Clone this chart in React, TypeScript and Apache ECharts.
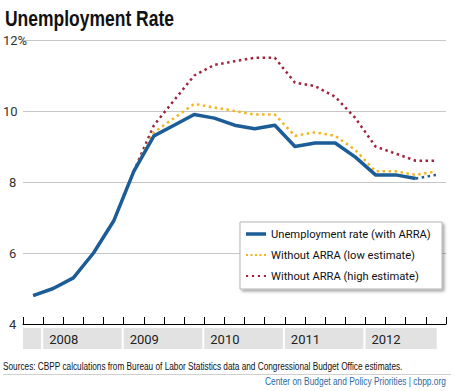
import React, { useEffect, useRef } from "react";
import * as echarts from "echarts";

const quarters = [
  "2007Q4",
  "2008Q1", "2008Q2", "2008Q3", "2008Q4",
  "2009Q1", "2009Q2", "2009Q3", "2009Q4",
  "2010Q1", "2010Q2", "2010Q3", "2010Q4",
  "2011Q1", "2011Q2", "2011Q3", "2011Q4",
  "2012Q1", "2012Q2", "2012Q3", "2012Q4",
];
const actualRate = [4.8, 5.0, 5.3, 6.0, 6.9, 8.3, 9.3, 9.6, 9.9, 9.8, 9.6, 9.5, 9.6, 9.0, 9.1, 9.1, 8.7, 8.2, 8.2, 8.1, null];
const actualProjected = [null, null, null, null, null, null, null, null, null, null, null, null, null, null, null, null, null, null, null, 8.1, 8.2];
const lowEstimate = [null, null, null, null, null, 8.3, 9.4, 9.8, 10.2, 10.1, 10.0, 9.9, 9.9, 9.3, 9.4, 9.3, 8.9, 8.3, 8.3, 8.2, 8.3];
const highEstimate = [null, null, null, null, null, 8.3, 9.6, 10.3, 11.0, 11.3, 11.4, 11.5, 11.5, 10.8, 10.7, 10.4, 9.8, 9.0, 8.8, 8.6, 8.6];

const yearLabels = ["", "2008", "2009", "2010", "2011", "2012"];
const yearStart = [-0.5, 0.5, 4.5, 8.5, 12.5, 16.5];
const yearEnd = [0.5, 4.5, 8.5, 12.5, 16.5, 20.14];

const seriesNames = [
  "Unemployment rate (with ARRA)",
  "Without ARRA (low estimate)",
  "Without ARRA (high estimate)",
];

const titleText = "Unemployment Rate";
const sourceText = "Sources: CBPP calculations from Bureau of Labor Statistics data and Congressional Budget Office estimates.";
const footerText = "Center on Budget and Policy Priorities | cbpp.org";

const iconSolid = "path://M0,0h20v3.5h-20z";
const iconYellowDots = "path://M0,0h2v2h-2zM4.5,0h2v2h-2zM9,0h2v2h-2zM13.5,0h2v2h-2zM18,0h2v2h-2z";
const iconRedDots = "path://M1,0h2v2h-2zM6.5,0h2v2h-2zM12,0h2v2h-2zM17.5,0h2v2h-2z";

function measure(text: string, font: string) {
  const c = document.createElement("canvas").getContext("2d") as CanvasRenderingContext2D;
  c.font = font;
  return c.measureText(text).width;
}

export default function App() {
  const ref = useRef<HTMLDivElement>(null);
  useEffect(() => {
    if (!ref.current) return;
    const chart = echarts.init(ref.current, undefined, { renderer: "svg" });
    const narrow = "Roboto";
    const base = '"Liberation Sans", Arial, sans-serif';

    const titleFont = `bold 22px ${base}`;
    const titleScale = 169 / measure(titleText, titleFont);
    const srcFont = `10px ${base}`;
    const srcScale = 400 / measure(sourceText, srcFont);
    const footFont = `10px ${base}`;
    const footScale = 181 / measure(footerText, footFont);

    const legW = measure(seriesNames[0], `13px ${narrow}`);
    const legendFontSize = Math.min(13, (13 * 160) / legW);
    const legTextW = measure(seriesNames[0], `${legendFontSize}px ${narrow}`);
    const legPadRight = Math.max(4, 202 - 31 - legTextW);

    const blue = "#1c5c97";
    const yellow = "#f2b51c";
    const red = "#a0253c";

    chart.setOption({
      animation: false,
      backgroundColor: "#ffffff",
      textStyle: { fontFamily: narrow },
      grid: [
        { left: 23, right: 9, top: 40, height: 284 },
        { left: 23, right: 9, top: 328, height: 21 },
      ],
      xAxis: [
        {
          type: "category",
          gridIndex: 0,
          data: quarters,
          boundaryGap: true,
          axisLine: { lineStyle: { color: "#000", width: 1 } },
          axisTick: { show: true, inside: true, length: 7, interval: 0, lineStyle: { color: "#000" } },
          axisLabel: { show: false },
          splitLine: { show: false },
        },
        { type: "value", gridIndex: 1, min: -0.5, max: 20.5, show: false },
      ],
      yAxis: [
        {
          type: "value",
          gridIndex: 0,
          min: 4,
          max: 12,
          interval: 2,
          axisLine: { show: false },
          axisTick: { show: false },
          splitLine: { lineStyle: { color: "#c6c6c6", width: 1 } },
          axisLabel: {
            align: "left",
            margin: 20,
            fontSize: 13,
            color: "#333",
            fontFamily: narrow,
            formatter: (v: number) =>
              v === 12 ? "12%" : v >= 10 ? String(v) : `{s|${v}}`,
            rich: { s: { padding: [0, 0, 0, 6], fontSize: 13, color: "#333", fontFamily: narrow } },
          },
        },
        { type: "value", gridIndex: 1, min: 0, max: 1, show: false },
      ],
      legend: {
        orient: "vertical",
        left: 240,
        top: 222,
        data: [
          { name: seriesNames[0], icon: iconSolid },
          { name: seriesNames[1], icon: iconYellowDots },
          { name: seriesNames[2], icon: iconRedDots },
        ],
        backgroundColor: "#fff",
        borderColor: "#b5b5b5",
        borderWidth: 1,
        shadowColor: "rgba(0,0,0,0.35)",
        shadowBlur: 3,
        shadowOffsetX: 2,
        shadowOffsetY: 2,
        padding: [5, legPadRight, 6, 6],
        itemGap: 7,
        itemWidth: 20,
        itemHeight: 4,
        itemStyle: { borderWidth: 0 },
        textStyle: { fontSize: legendFontSize, lineHeight: 14, color: "#111", fontFamily: narrow },
      },
      series: [
        {
          name: seriesNames[0],
          type: "line",
          data: actualRate,
          symbol: "none",
          lineStyle: { color: blue, width: 3.5, join: "round" },
          itemStyle: { color: blue },
          z: 5,
        },
        {
          name: "projected",
          type: "line",
          data: actualProjected,
          symbol: "none",
          lineStyle: { color: blue, width: 2.5, type: [2.5, 3.5] },
          itemStyle: { color: blue },
          z: 4,
        },
        {
          name: seriesNames[1],
          type: "line",
          data: lowEstimate,
          symbol: "none",
          lineStyle: { color: yellow, width: 2.5, type: [2.5, 3.5] },
          itemStyle: { color: yellow },
          z: 3,
        },
        {
          name: seriesNames[2],
          type: "line",
          data: highEstimate,
          symbol: "none",
          lineStyle: { color: red, width: 2.5, type: [2.5, 3.5] },
          itemStyle: { color: red },
          z: 2,
        },
        {
          type: "custom",
          xAxisIndex: 1,
          yAxisIndex: 1,
          silent: true,
          data: yearStart.map((s, i) => [s, yearEnd[i]]),
          renderItem: (params: any, api: any) => {
            const p0 = api.coord([api.value(0), 1]);
            const p1 = api.coord([api.value(1), 0]);
            return {
              type: "group",
              children: [
                {
                  type: "rect",
                  shape: { x: p0[0], y: p0[1], width: p1[0] - p0[0] - 2, height: p1[1] - p0[1] },
                  style: { fill: "#e2e2e2" },
                },
                {
                  type: "text",
                  style: {
                    text: yearLabels[params.dataIndex],
                    x: p0[0] + 6,
                    y: (p0[1] + p1[1]) / 2 + 1,
                    verticalAlign: "middle",
                    fontSize: 13,
                    fontFamily: narrow,
                    fill: "#222",
                  },
                },
              ],
            };
          },
        },
      ],
      graphic: [
        {
          type: "text",
          x: 5,
          y: 18,
          scaleX: titleScale,
          style: {
            text: titleText,
            font: titleFont,
            fill: "#111",
            verticalAlign: "middle",
          },
        },
        {
          type: "text",
          x: 3,
          y: 367,
          scaleX: srcScale,
          style: { text: sourceText, font: srcFont, fill: "#111", verticalAlign: "middle" },
        },
        {
          type: "line",
          shape: { x1: 3, y1: 374.5, x2: 451, y2: 374.5 },
          style: { stroke: "#cfcfcf", lineWidth: 1 },
        },
        {
          type: "text",
          x: 265,
          y: 382,
          scaleX: footScale,
          style: { text: footerText, font: footFont, fill: "#2c6aa3", verticalAlign: "middle" },
        },
      ],
    });
    return () => chart.dispose();
  }, []);
  return (
    <div
      ref={ref}
      style={{ position: "fixed", left: 0, top: 0, width: 455, height: 391 }}
    />
  );
}
